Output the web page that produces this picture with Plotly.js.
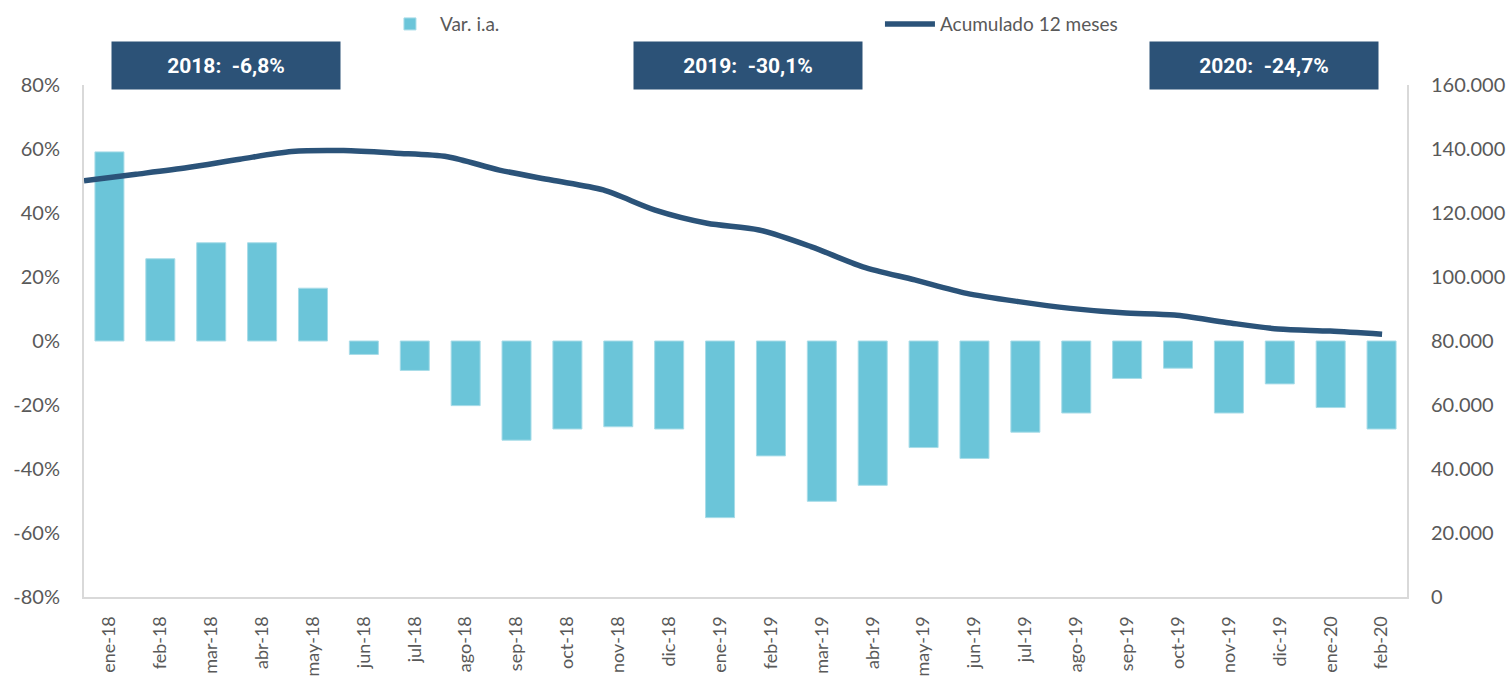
<!DOCTYPE html>
<html>
<head>
<meta charset="utf-8">
<script src="https://cdn.plot.ly/plotly-3.0.1.min.js"></script>
<style>html,body{margin:0;padding:0;background:#fff;}#chart{width:1511px;height:682px;}</style>
</head>
<body>
<div id="chart"></div>
<script>
const months = ["ene-18","feb-18","mar-18","abr-18","may-18","jun-18","jul-18","ago-18","sep-18","oct-18","nov-18","dic-18",
  "ene-19","feb-19","mar-19","abr-19","may-19","jun-19","jul-19","ago-19","sep-19","oct-19","nov-19","dic-19","ene-20","feb-20"];
const varIA = [59.1,25.7,30.7,30.7,16.5,-4.2,-9.2,-20.2,-31.0,-27.5,-26.8,-27.5,
  -55.2,-35.9,-50.1,-45.1,-33.3,-36.7,-28.5,-22.5,-11.7,-8.5,-22.5,-13.4,-20.8,-27.5];
const acum12 = [130100,132100,134200,136800,139200,139500,138700,137600,133400,130300,127200,120900,
  116800,114700,109500,103200,99100,94900,92300,90200,88800,88100,85800,83750,83100,82100];
const leftTicks = [-80,-60,-40,-20,0,20,40,60,80];
const leftTickText = ["-80%","-60%","-40%","-20%","0%","20%","40%","60%","80%"];
const rightTicks = [0,20000,40000,60000,80000,100000,120000,140000,160000];
const rightTickText = ["0","20.000","40.000","60.000","80.000","100.000","120.000","140.000","160.000"];
const boxLabels = ["2018:  -6,8%","2019:  -30,1%","2020:  -24,7%"];

const tickFont = {family:"Lato, 'Open Sans', sans-serif", size:20, color:"#595959"};
const boxColor = "#2C5277";
const boxPos = [0.1073, 0.5017, 0.8921];

const data = [
  {type:"bar", name:"Var. i.a.", x:months, y:varIA, xaxis:"x", yaxis:"y",
   marker:{color:"#6BC5D9", line:{color:"#A8DCE8", width:1}}, width:0.57},
  {type:"scatter", mode:"lines", name:"Acumulado 12 meses", x:months, y:acum12, xaxis:"x2", yaxis:"y2",
   line:{color:"#2B5379", width:5.5, shape:"spline", smoothing:0.8}}
];

const layout = {
  width:1511, height:682,
  margin:{l:84, r:104, t:85, b:85, autoexpand:false},
  paper_bgcolor:"#fff", plot_bgcolor:"#fff",
  showlegend:true,
  legend:{orientation:"h", x:0.2237, xanchor:"left", y:1.119, yanchor:"middle",
    font:{family:"Lato, 'Open Sans', sans-serif", size:19, color:"#595959"},
    entrywidth:435, entrywidthmode:"pixels", itemwidth:50, traceorder:"normal", bgcolor:"rgba(0,0,0,0)"},
  xaxis:{type:"category", range:[-0.5,25.5], showline:true, linecolor:"#D9D9D9", linewidth:2, mirror:false,
    showgrid:false, zeroline:false, ticks:"", tickangle:-90, ticklabelstandoff:10,
    tickfont:{family:"Lato, 'Open Sans', sans-serif", size:18, color:"#595959"}, automargin:false},
  xaxis2:{type:"category", overlaying:"x", range:[0,25.48], visible:false},
  yaxis:{range:[-80,80], tickvals:leftTicks, ticktext:leftTickText, showline:true, linecolor:"#D9D9D9", linewidth:2,
    showgrid:false, zeroline:false, ticks:"", ticklabelstandoff:18, tickfont:tickFont, automargin:false},
  yaxis2:{range:[0,160000], overlaying:"y", side:"right", tickvals:rightTicks, ticktext:rightTickText, showline:true,
    linecolor:"#D9D9D9", linewidth:2, showgrid:false, zeroline:false, ticks:"", ticklabelstandoff:18,
    tickfont:tickFont, automargin:false},
  annotations: boxLabels.map((t,i)=>({xref:"paper", yref:"paper", x:boxPos[i], y:1.038, xanchor:"center", yanchor:"middle",
    text:"<b>"+t+"</b>", showarrow:false, bgcolor:boxColor, width:228, height:47, borderpad:0,
    font:{family:"'Liberation Sans Narrow', 'Roboto', sans-serif", size:21, color:"#fff"}}))
};

Plotly.newPlot("chart", data, layout, {displayModeBar:false, staticPlot:true});
</script>
</body>
</html>
